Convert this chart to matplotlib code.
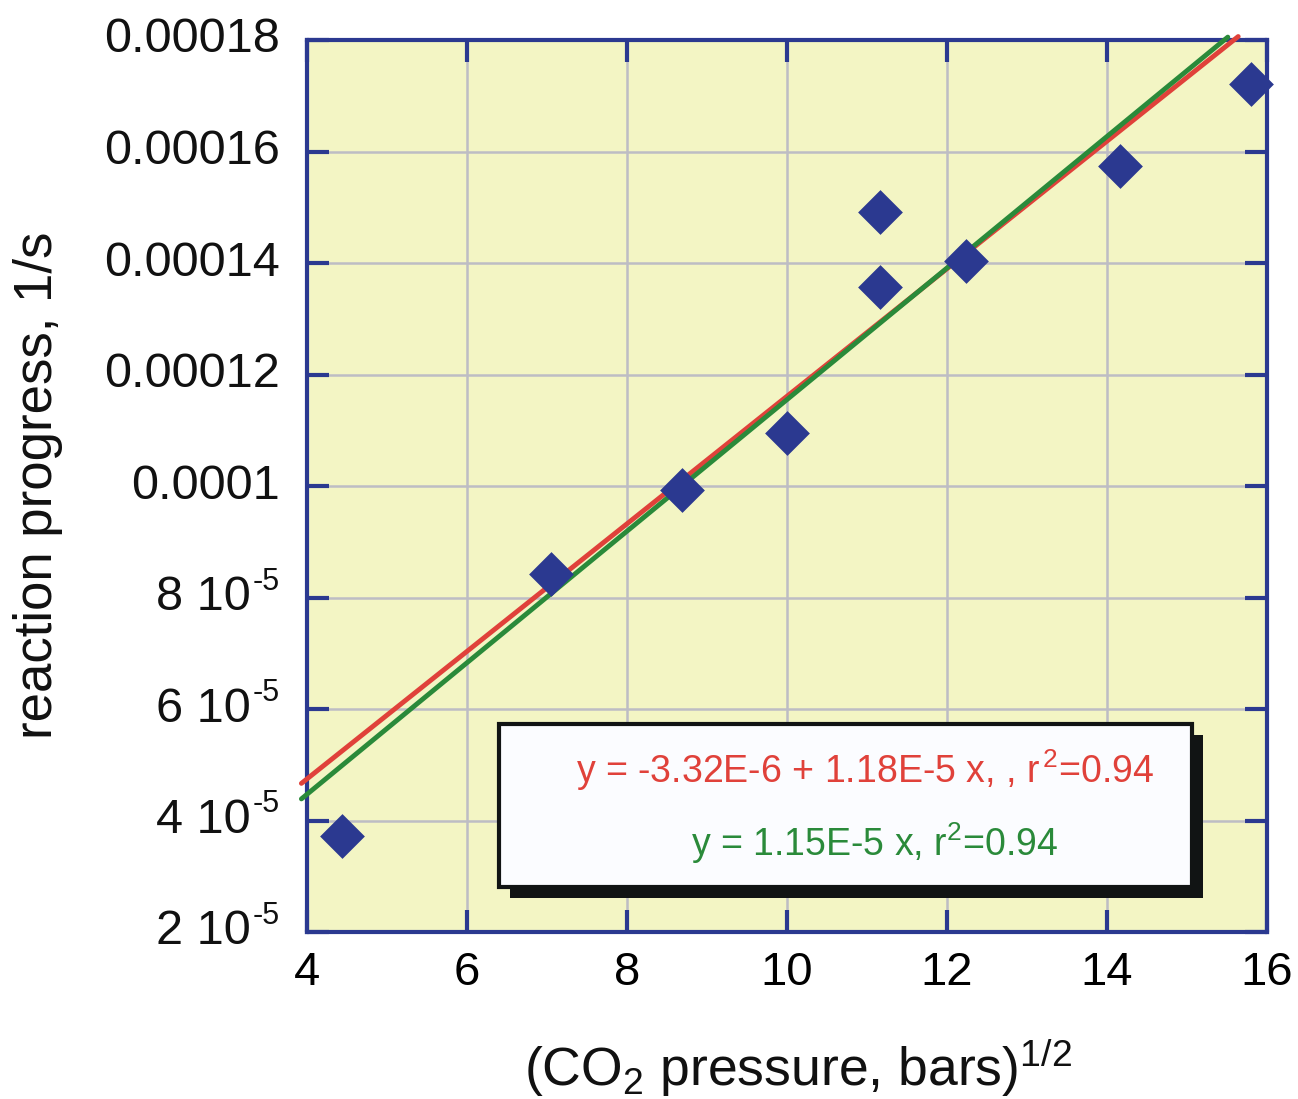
import numpy as np
import matplotlib.pyplot as plt
from matplotlib.patches import Rectangle
from matplotlib.transforms import blended_transform_factory, offset_copy

plt.rcParams['font.family'] = ['Liberation Sans', 'DejaVu Sans']
plt.rcParams['mathtext.fontset'] = 'custom'
plt.rcParams['mathtext.rm'] = 'Liberation Sans'
plt.rcParams['mathtext.it'] = 'Liberation Sans'

# measured points
x_data = [4.44, 7.05, 8.69, 10.0, 11.16, 11.16, 12.24, 14.16, 15.8]
y_data = [3.72e-5, 8.42e-5, 9.93e-5, 1.095e-4, 1.491e-4, 1.357e-4, 1.404e-4, 1.574e-4, 1.721e-4]

# fitted lines as drawn: intercept, slope, x range
red_fit = [1.7e-6, 1.144e-5]
red_x = [3.93, 15.64]
green_fit = [-2.5e-6, 1.18e-5]
green_x = [3.93, 15.51]

x_ticks = [4, 6, 8, 10, 12, 14, 16]
y_ticks = [2e-5, 4e-5, 6e-5, 8e-5, 1e-4, 1.2e-4, 1.4e-4, 1.6e-4, 1.8e-4]
y_main = ['2 10', '4 10', '6 10', '8 10', '0.0001', '0.00012', '0.00014', '0.00016', '0.00018']
y_exp = ['-5', '-5', '-5', '-5', '', '', '', '', '']

navy = '#2B3990'
red = '#E0413A'
green = '#2A8A3A'

fig = plt.figure(figsize=(12.98, 10.99), dpi=100)
ax = fig.add_axes([307/1298, 1 - 932/1099, 960/1298, 892/1099])
ax.set_facecolor('#F3F5C4')

ax.set_xlim(4, 16)
ax.set_ylim(2e-5, 1.8e-4)
ax.set_xticks(x_ticks)
ax.set_yticks(y_ticks)
ax.set_yticklabels([])
ax.grid(True, color='#BDBDC4', linewidth=1.8, zorder=0)
ax.set_axisbelow(True)

for s in ax.spines.values():
    s.set_color(navy)
    s.set_linewidth(3)
ax.tick_params(direction='in', length=16, width=3, color=navy,
               labelsize=34, pad=14, right=True, top=True)

# y tick labels drawn by hand so the exponent keeps a plain hyphen
trans = blended_transform_factory(ax.transAxes, ax.transData)
for yv, m, e in zip(y_ticks, y_main, y_exp):
    if e:
        ax.text(0, yv, m, transform=offset_copy(trans, fig, x=-56, y=0, units='dots'),
                ha='right', va='center', fontsize=35, color='#111111')
        ax.text(0, yv, e, transform=offset_copy(trans, fig, x=-27, y=16, units='dots'),
                ha='right', va='center', fontsize=22, color='#111111')
    else:
        ax.text(0, yv, m, transform=offset_copy(trans, fig, x=-27, y=0, units='dots'),
                ha='right', va='center', fontsize=35, color='#111111')

xr = np.array(red_x)
ax.plot(xr, red_fit[0] + red_fit[1] * xr, color=red, lw=3.5,
        solid_capstyle='round', clip_on=False, zorder=3)
xg = np.array(green_x)
ax.plot(xg, green_fit[0] + green_fit[1] * xg, color=green, lw=3.5,
        solid_capstyle='round', clip_on=False, zorder=3)

ax.scatter(x_data, y_data, marker='D', s=520, color=navy, zorder=4,
           clip_on=False, linewidths=0)

# legend box with shadow
bx0, by0, bx1, by1 = 499, 724, 1192, 887
shadow = Rectangle((bx0 + 11, 1099 - by1 - 11), bx1 - bx0, by1 - by0,
                   transform=None, facecolor='#111414', edgecolor='none', zorder=5)
box = Rectangle((bx0, 1099 - by1), bx1 - bx0, by1 - by0,
                transform=None, facecolor='#FBFCFF', edgecolor='#111414',
                linewidth=3, zorder=6)
fig.patches.extend([shadow, box])
fig.text(865/1298, 1 - 770/1099, 'y = -3.32E-6 + 1.18E-5 x, , r$^{\\,2}$=0.94',
         color=red, fontsize=27, ha='center', va='center', zorder=7)
fig.text(875/1298, 1 - 843/1099, 'y = 1.15E-5 x, r$^{2}$=0.94',
         color=green, fontsize=27, ha='center', va='center', zorder=7)

fig.text(798/1298, 1 - 1068/1099, '(CO$_2$ pressure, bars)$^{1/2}$',
         fontsize=38.5, ha='center', va='center', color='#111111')
fig.text(38/1298, 1 - 485/1099, 'reaction progress, 1/s', rotation=90,
         fontsize=38, ha='center', va='center', color='#111111')

fig.savefig('out.png', dpi=100)
